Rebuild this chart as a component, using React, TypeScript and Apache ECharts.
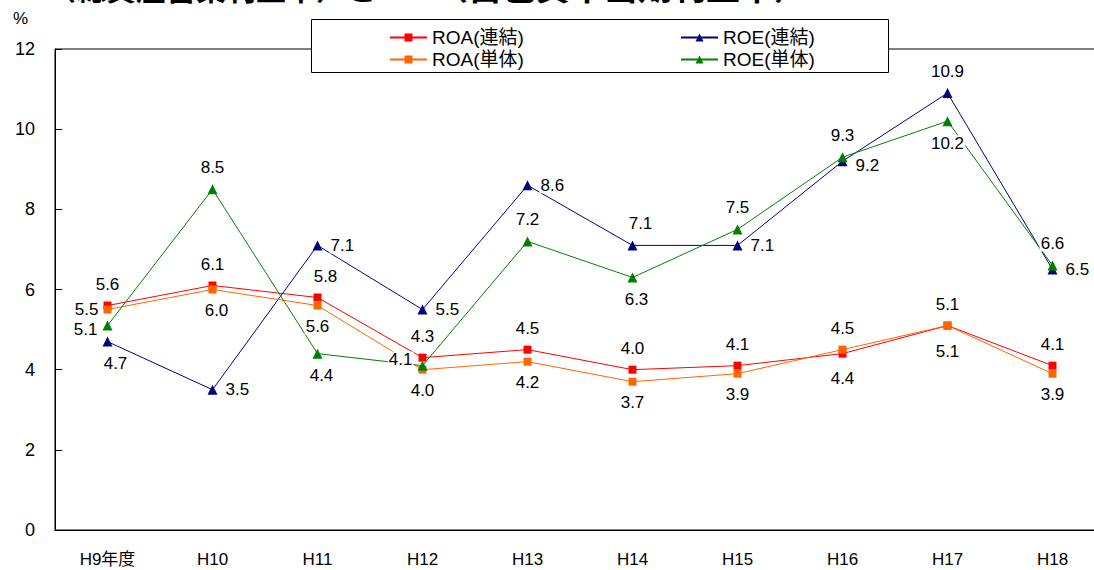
import React, { useEffect, useRef } from 'react';
import * as echarts from 'echarts';

const categories = ['H9年度', 'H10', 'H11', 'H12', 'H13', 'H14', 'H15', 'H16', 'H17', 'H18'];
const roaConsolidated = [5.6, 6.1, 5.8, 4.3, 4.5, 4.0, 4.1, 4.4, 5.1, 4.1];
const roaStandalone = [5.5, 6.0, 5.6, 4.0, 4.2, 3.7, 3.9, 4.5, 5.1, 3.9];
const roeConsolidated = [4.7, 3.5, 7.1, 5.5, 8.6, 7.1, 7.1, 9.2, 10.9, 6.5];
const roeStandalone = [5.1, 8.5, 4.4, 4.1, 7.2, 6.3, 7.5, 9.3, 10.2, 6.6];

const seriesNames = ['ROA(連結)', 'ROE(連結)', 'ROA(単体)', 'ROE(単体)'];

// label placement per point (styling, kept apart from values)
const posRoaC = ['top', 'top', 'top', 'top', 'top', 'top', 'top', 'bottom', 'top', 'top'];
const posRoaS = ['left', 'bottom', 'bottom', 'bottom', 'bottom', 'bottom', 'bottom', 'top', 'bottom', 'bottom'];
const posRoeC = ['bottom', 'right', 'right', 'right', 'right', 'top', 'right', 'right', 'top', 'right'];
const posRoeS = ['left', 'top', 'bottom', 'left', 'top', 'bottom', 'top', 'top', 'bottom', 'top'];
// small nudges [dx, dy] per point label
const offRoaC = [[0, 0], [0, 0], [8, 0], [0, 0], [0, 0], [0, 0], [0, 0], [0, 4], [0, 0], [0, 0]];
const offRoaS = [[0, 0], [4, 0], [0, 0], [0, 0], [0, 0], [0, 0], [0, 0], [0, 0], [0, 5], [0, 0]];
const offRoeC = [[8, 0], [0, 0], [0, 0], [0, 0], [0, 0], [8, 0], [0, 0], [0, 4], [0, 0], [0, 0]];
const offRoeS = [[0, 4], [0, 0], [4, 0], [0, -6], [0, 0], [4, 0], [0, 0], [0, 0], [0, 0], [0, 0]];

const FONT = "'Liberation Sans', 'Noto Sans CJK JP', sans-serif";

function makeData(values: number[], positions: string[], offsets: number[][]) {
  return values.map((v, i) => ({
    value: v,
    label: {
      position: positions[i],
      offset: offsets[i],
      distance: positions[i] === 'left' ? 4 : positions[i] === 'right' ? 7 : 9,
    },
  }));
}

export default function App() {
  const ref = useRef<HTMLDivElement>(null);
  useEffect(() => {
    if (!ref.current) return;
    const chart = echarts.init(ref.current, null, { renderer: 'svg' });
    const labelBase = {
      show: true,
      color: '#000',
      fontSize: 17,
      lineHeight: 16,
      fontFamily: FONT,
      backgroundColor: '#fff',
      padding: [0, 1, 0, 1],
      formatter: (p: any) => Number(p.value).toFixed(1),
    };
    const mk = (name: string, color: string, symbol: string, size: number, data: any[]) => ({
      name,
      type: 'line',
      data,
      symbol,
      symbolSize: size,
      showAllSymbol: true,
      lineStyle: { color, width: 1 },
      itemStyle: { color },
      label: labelBase,
      emphasis: { disabled: true },
    });
    const legendText = { fontSize: 19, color: '#000', fontFamily: FONT };
    chart.setOption({
      animation: false,
      textStyle: { fontFamily: FONT },
      grid: {
        left: 55,
        top: 49,
        width: 1050,
        height: 481,
        show: true,
        borderColor: '#000',
        borderWidth: 1,
        backgroundColor: 'transparent',
        outerBoundsMode: 'none',
        containLabel: false,
      },
      legend: [
        {
          data: [seriesNames[0], seriesNames[2]],
          orient: 'vertical',
          left: 384,
          top: 23,
          itemWidth: 37,
          itemHeight: 10,
          itemGap: 3,
          z: 20,
          textStyle: legendText,
        },
        {
          data: [seriesNames[1], seriesNames[3]],
          orient: 'vertical',
          left: 675,
          top: 23,
          itemWidth: 37,
          itemHeight: 10,
          itemGap: 3,
          z: 20,
          textStyle: legendText,
        },
      ],
      xAxis: {
        type: 'category',
        data: categories,
        boundaryGap: true,
        axisLine: { lineStyle: { color: '#000', width: 1 } },
        axisTick: { inside: true, length: 7, lineStyle: { color: '#000' } },
        axisLabel: { color: '#000', fontSize: 17, margin: 21, fontFamily: FONT },
      },
      yAxis: {
        type: 'value',
        min: 0,
        max: 12,
        interval: 2,
        splitLine: { show: false },
        axisLine: { show: true, lineStyle: { color: '#000', width: 1 } },
        axisTick: { show: true, inside: true, length: 7, lineStyle: { color: '#000' } },
        axisLabel: { color: '#000', fontSize: 18, margin: 20, fontFamily: FONT },
      },
      graphic: [
        {
          type: 'text',
          left: 46,
          top: -26,
          z: 30,
          style: { text: '（総資産営業利益率）と', fontSize: 30, fontWeight: 'bold', fill: '#000', fontFamily: FONT },
        },
        {
          type: 'text',
          left: 434,
          top: -29,
          z: 30,
          style: { text: '（自己資本当期利益率）', fontSize: 34, fontWeight: 'bold', fill: '#000', fontFamily: FONT },
        },
        {
          type: 'text',
          left: 13,
          top: 10,
          z: 30,
          style: { text: '%', fontSize: 17, fill: '#000', fontFamily: FONT },
        },
        {
          type: 'rect',
          z: 15,
          shape: { x: 311.5, y: 19.5, width: 577, height: 53 },
          style: { fill: '#fff', stroke: '#000', lineWidth: 1 },
        },
      ],
      series: [
        mk(seriesNames[0], '#FF0000', 'rect', 8, makeData(roaConsolidated, posRoaC, offRoaC)),
        mk(seriesNames[1], '#000080', 'triangle', 10, makeData(roeConsolidated, posRoeC, offRoeC)),
        mk(seriesNames[2], '#FF6600', 'rect', 8, makeData(roaStandalone, posRoaS, offRoaS)),
        mk(seriesNames[3], '#008000', 'triangle', 10, makeData(roeStandalone, posRoeS, offRoeS)),
      ],
    });
    return () => chart.dispose();
  }, []);
  return (
    <div
      ref={ref}
      style={{ position: 'fixed', left: 0, top: 0, width: 1094, height: 570, background: '#fff' }}
    />
  );
}
